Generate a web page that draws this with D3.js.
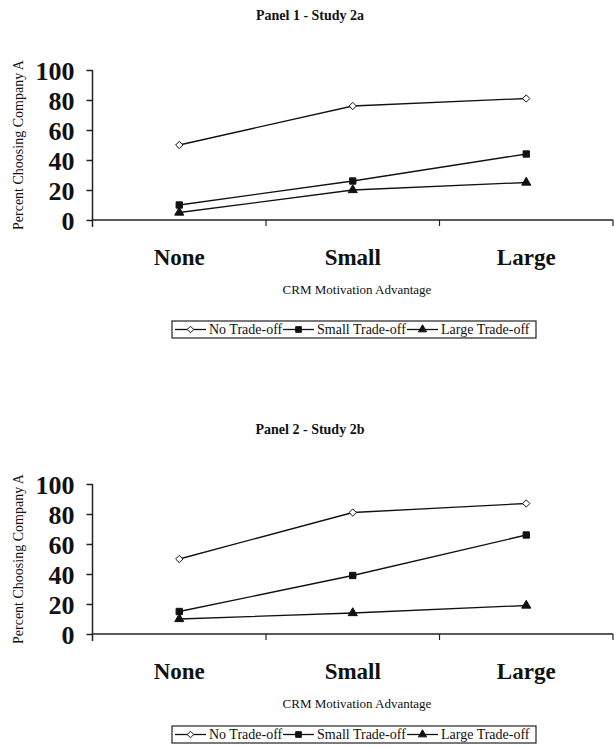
<!DOCTYPE html>
<html>
<head>
<meta charset="utf-8">
<script src="https://cdn.jsdelivr.net/npm/d3@7"></script>
<style>
  body { margin: 0; background: #fff; }
  svg text { font-family: "Liberation Serif", "Times New Roman", serif; fill: #111; }
</style>
</head>
<body>
<svg id="canvas" width="614" height="748"></svg>
<script>
// ---- data ----
var categories = ['None', 'Small', 'Large'];
var yTicks = [0, 20, 40, 60, 80, 100];
var seriesNames = ['No Trade-off', 'Small Trade-off', 'Large Trade-off'];
var seriesShapes = ['diamond', 'square', 'triangle'];

var panelTitles = ['Panel 1 - Study 2a', 'Panel 2 - Study 2b'];
// study 2a
var study2a_none = [50, 76, 81];
var study2a_small = [10, 26, 44];
var study2a_large = [5, 20, 25];
// study 2b
var study2b_none = [50, 81, 87];
var study2b_small = [15, 39, 66];
var study2b_large = [10, 14, 19];

var panels = [
  { title: panelTitles[0], series: [study2a_none, study2a_small, study2a_large], top: 70, bottom: 220, legendTop: 321 },
  { title: panelTitles[1], series: [study2b_none, study2b_small, study2b_large], top: 484, bottom: 634, legendTop: 726 }
];

var svg = d3.select('#canvas');
var left = 92.5, right = 613;

var symbolFor = function(shape, small){
  var k = small ? 0.8 : 1;
  if(shape == 'diamond') return d3.symbol().type(d3.symbolDiamond2).size(34 * k);
  if(shape == 'square') return d3.symbol().type(d3.symbolSquare).size(40 * k);
  return d3.symbol().type(d3.symbolTriangle).size(36 * k);
};

var lineGen = d3.line().x(d => d.x).y(d => d.y);

panels.forEach(function(p){
  var g = svg.append('g');
  var xScale = d3.scaleBand().domain(categories).range([left, right]);
  var yScale = d3.scaleLinear().domain([0, 100]).range([p.bottom, p.top]);

  // title
  g.append('text')
    .attr('x', 310).attr('y', p.top - 50)
    .attr('text-anchor', 'middle')
    .style('font-size', '14px').style('font-weight', 'bold')
    .text(p.title);

  // y axis
  var yAxis = g.append('g').attr('transform', 'translate(' + left + ',0)')
    .call(d3.axisLeft(yScale).tickValues(yTicks).tickSize(6).tickSizeOuter(0).tickPadding(12));
  yAxis.selectAll('text').style('font-size', '26px').style('font-weight', 'bold')
    .style('font-family', '"Liberation Serif", serif').attr('fill', '#111').attr('dy', '0.36em');
  yAxis.select('.domain').attr('d', 'M0,' + p.top + 'V' + (p.bottom + 7)).attr('stroke', '#222').attr('stroke-width', 1.5);
  yAxis.selectAll('.tick line').attr('stroke', '#222').attr('stroke-width', 1.5);

  // x axis: baseline, boundary ticks, category labels
  g.append('line')
    .attr('x1', left).attr('x2', right).attr('y1', yScale(0)).attr('y2', yScale(0))
    .attr('stroke', '#222').attr('stroke-width', 1.5);
  var bounds = categories.slice(1).map(c => xScale(c)).concat([right]);
  g.selectAll('.xtick').data(bounds).enter().append('line')
    .attr('class', 'xtick')
    .attr('x1', d => d).attr('x2', d => d)
    .attr('y1', yScale(0)).attr('y2', yScale(0) + 6)
    .attr('stroke', '#222').attr('stroke-width', 1.2);
  g.selectAll('.xlabel').data(categories).enter().append('text')
    .attr('class', 'xlabel')
    .attr('x', d => xScale(d) + xScale.bandwidth() / 2)
    .attr('y', yScale(0) + 45)
    .attr('text-anchor', 'middle')
    .style('font-size', '23px').style('font-weight', 'bold')
    .text(d => d);

  // axis titles
  g.append('text')
    .attr('x', 357).attr('y', yScale(0) + 74)
    .attr('text-anchor', 'middle')
    .style('font-size', '13px')
    .text('CRM Motivation Advantage');
  g.append('text')
    .attr('transform', 'translate(23,' + (p.top + 75) + ') rotate(-90)')
    .attr('text-anchor', 'middle')
    .style('font-size', '14px')
    .text('Percent Choosing Company A');

  // series
  p.series.forEach(function(vals, si){
    var pts = vals.map((v, i) => ({ x: xScale(categories[i]) + xScale.bandwidth() / 2, y: yScale(v) }));
    g.append('path').attr('d', lineGen(pts))
      .attr('fill', 'none').attr('stroke', '#111').attr('stroke-width', 1.3);
    g.selectAll('.pt' + si).data(pts).enter().append('path')
      .attr('class', 'pt' + si)
      .attr('transform', d => 'translate(' + d.x + ',' + d.y + ')')
      .attr('d', symbolFor(seriesShapes[si])())
      .attr('fill', seriesShapes[si] == 'diamond' ? '#fff' : '#111')
      .attr('stroke', '#111').attr('stroke-width', 1);
  });

  // legend
  var lg = g.append('g').attr('transform', 'translate(172,' + p.legendTop + ')');
  lg.append('rect').attr('width', 364).attr('height', 17)
    .attr('fill', '#fff').attr('stroke', '#222').attr('stroke-width', 1.2);
  var itemX = [3, 111, 235];
  seriesNames.forEach(function(name, si){
    var it = lg.append('g').attr('transform', 'translate(' + itemX[si] + ',0)');
    it.append('line').attr('x1', 0).attr('x2', 31).attr('y1', 8.5).attr('y2', 8.5)
      .attr('stroke', '#111').attr('stroke-width', 1.3);
    it.append('path').attr('transform', 'translate(15.5,8.5)')
      .attr('d', symbolFor(seriesShapes[si], true)())
      .attr('fill', seriesShapes[si] == 'diamond' ? '#fff' : '#111')
      .attr('stroke', '#111').attr('stroke-width', 1);
    it.append('text').attr('x', 34).attr('y', 13)
      .style('font-size', '14px').text(name);
  });
});
</script>
</body>
</html>
